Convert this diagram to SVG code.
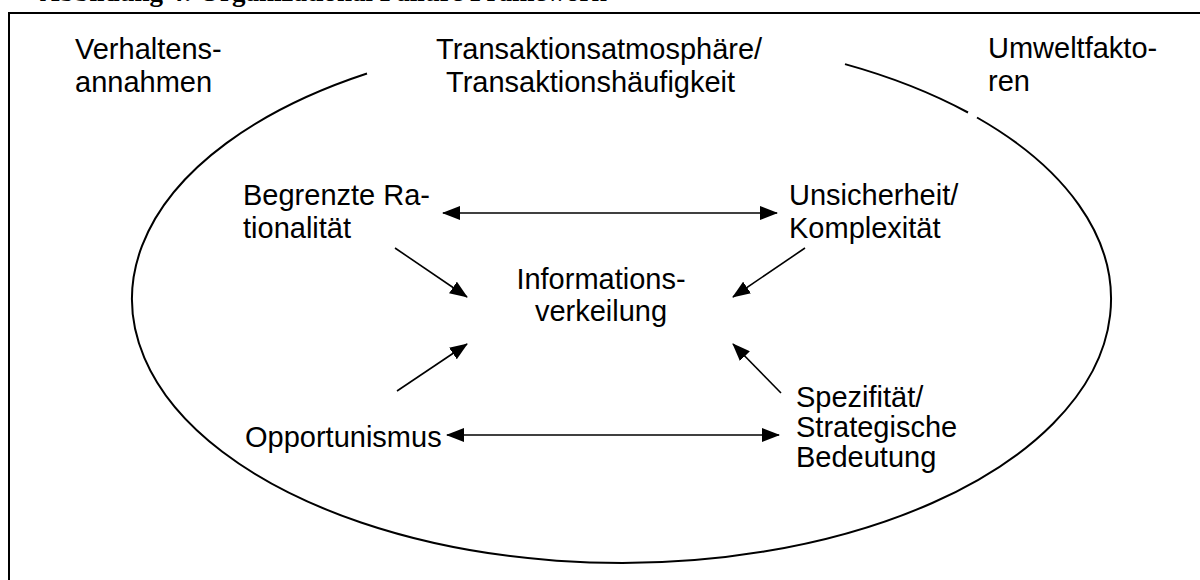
<svg xmlns="http://www.w3.org/2000/svg" width="1200" height="580" viewBox="0 0 1200 580">
  <style>
    .lbl { font-family: "Liberation Sans", Arial, sans-serif; font-size: 29px; fill: #000; }
    .title { font-family: "Liberation Serif", "Times New Roman", serif; font-size: 27px; font-weight: bold; fill: #000; }
    .frame { fill: none; stroke: #000; stroke-width: 2; }
    .oval { fill: none; stroke: #000; stroke-width: 2; }
    .arrow { fill: none; stroke: #000; stroke-width: 1.6; }
  </style>
  <defs>
    <marker id="head" viewBox="0 0 18 14" refX="17" refY="7" markerWidth="18" markerHeight="14" markerUnits="userSpaceOnUse" orient="auto-start-reverse">
      <path d="M0,0 L18,7 L0,14 Z" fill="#000"/>
    </marker>
  </defs>

  <rect width="1200" height="580" fill="#fff"/>

  <!-- caption line, cut at the upper edge -->
  <text class="title" x="40" y="1">Abbildung 4: Organizational Failure Framework</text>

  <!-- outer frame -->
  <rect class="frame" x="9" y="13" width="1200" height="600"/>

  <!-- open ellipse with gaps at the top and upper right -->
  <g id="ellipse">
    <path class="oval" d="M367,73.5 A489.5,264 0 1 0 977,117.5"/>
    <path class="oval" d="M968,112.5 A489.5,264 0 0 0 845,64.1"/>
  </g>

  <g id="verhaltensannahmen">
    <text class="lbl" x="75" y="59">Verhaltens-</text>
    <text class="lbl" x="75" y="92">annahmen</text>
  </g>

  <g id="transaktionsatmosphaere">
    <text class="lbl" x="436" y="59">Transaktionsatmosphäre/</text>
    <text class="lbl" x="446" y="92">Transaktionshäufigkeit</text>
  </g>

  <g id="umweltfaktoren">
    <text class="lbl" x="988" y="58">Umweltfakto-</text>
    <text class="lbl" x="988" y="91">ren</text>
  </g>

  <g id="begrenzte-rationalitaet">
    <text class="lbl" x="243" y="205">Begrenzte Ra-</text>
    <text class="lbl" x="243" y="238">tionalität</text>
  </g>

  <g id="unsicherheit">
    <text class="lbl" x="789" y="205">Unsicherheit/</text>
    <text class="lbl" x="789" y="238">Komplexität</text>
  </g>

  <g id="informationsverkeilung">
    <text class="lbl" x="601" y="289" text-anchor="middle">Informations-</text>
    <text class="lbl" x="601" y="321" text-anchor="middle">verkeilung</text>
  </g>

  <g id="opportunismus">
    <text class="lbl" x="245" y="447">Opportunismus</text>
  </g>

  <g id="spezifitaet">
    <text class="lbl" x="796" y="407">Spezifität/</text>
    <text class="lbl" x="796" y="437">Strategische</text>
    <text class="lbl" x="796" y="467">Bedeutung</text>
  </g>

  <g id="connectors">
    <line class="arrow" x1="443" y1="213" x2="777" y2="213" marker-start="url(#head)" marker-end="url(#head)"/>
    <line class="arrow" x1="447" y1="435" x2="779" y2="435" marker-start="url(#head)" marker-end="url(#head)"/>
    <line class="arrow" x1="395" y1="248" x2="467" y2="297" marker-end="url(#head)"/>
    <line class="arrow" x1="805" y1="248" x2="733" y2="297" marker-end="url(#head)"/>
    <line class="arrow" x1="397" y1="391" x2="467" y2="344" marker-end="url(#head)"/>
    <line class="arrow" x1="781" y1="393" x2="733" y2="344" marker-end="url(#head)"/>
  </g>
</svg>
